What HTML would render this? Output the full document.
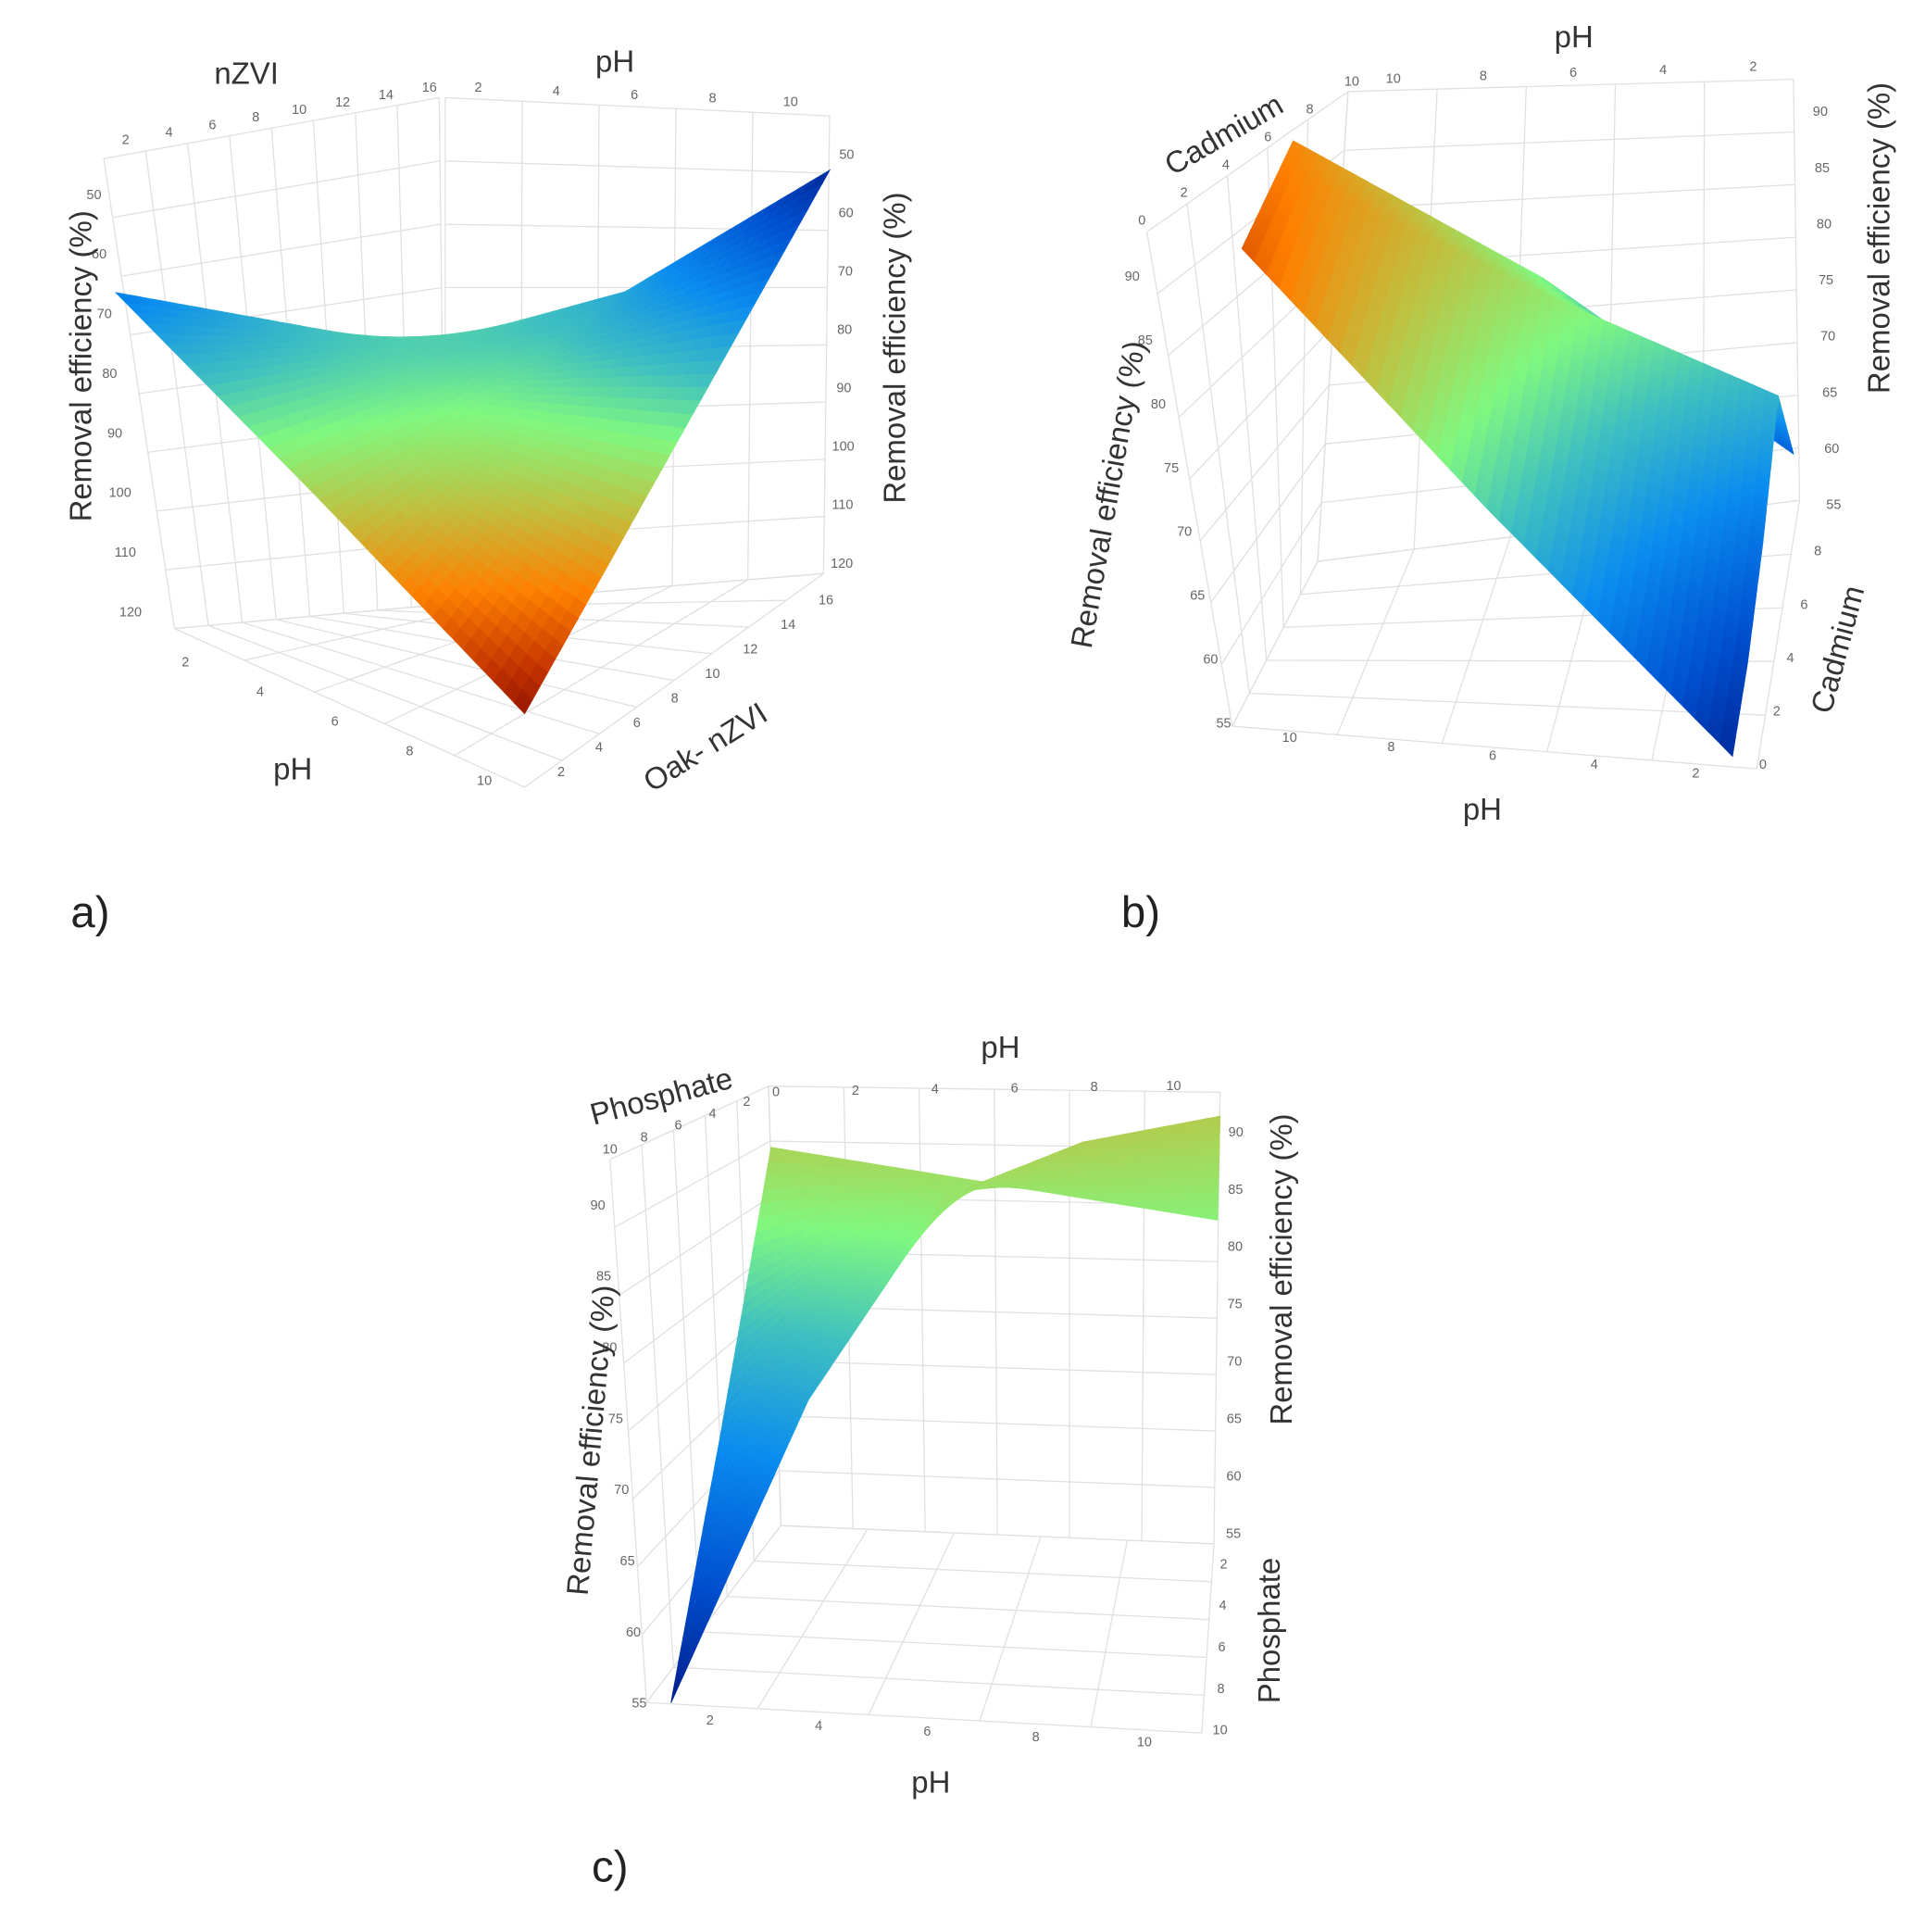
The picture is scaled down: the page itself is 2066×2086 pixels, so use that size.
<!DOCTYPE html>
<html><head><meta charset="utf-8">
<style>
html,body{margin:0;padding:0;background:#fff;}
svg{display:block;}
text{font-family:"Liberation Sans",sans-serif;}
.tick{font-size:11px;fill:#666;}
.title{font-size:25px;fill:#333;}
.panel{font-size:36px;fill:#222;}
</style></head>
<body>
<svg id="fig" width="2066" height="2086" viewBox="0 0 1568 1583" preserveAspectRatio="none" xmlns="http://www.w3.org/2000/svg">
<g id="grids"></g>
<g id="surfaces"></g>
<g id="labels"></g>
</svg>
<script>
// ---------- Chart a data ----------
const aPH = [2, 6, 10];
const aOak = [2, 9, 16];
const aValsPH2 = [67, 76, 85];
const aValsPH6 = [93, 86, 74];
const aValsPH10 = [120, 86, 52];
const aZTicks = [50, 60, 70, 80, 90, 100, 110, 120];
const aNzviTicks = [2, 4, 6, 8, 10, 12, 14, 16];
const aPHTicks = [2, 4, 6, 8, 10];
// ---------- Chart b data ----------
const bPH = [10, 6, 2];
const bCad = [0, 2, 4, 6, 8];
const bValsPH10 = [92, 91, 90, 89, 88];
const bValsPH6 = [73, 75, 77, 79, 76];
const bValsPH2 = [55, 58, 63, 70, 61];
const bZTicks = [55, 60, 65, 70, 75, 80, 85, 90];
const bPHTicks = [10, 8, 6, 4, 2];
const bCadTopTicks = [0, 2, 4, 6, 8, 10];
const bCadRightTicks = [0, 2, 4, 6, 8];
// ---------- Chart c data ----------
const cPH = [1.5, 3.75, 6, 8.25, 10.5];
const cPhos = [10, 5, 0];
const cValsPhos10 = [55, 75, 88, 90.5, 91];
const cValsPhos5 = [72, 82, 88, 88.5, 88.5];
const cValsPhos0 = [90, 89, 88, 87, 86];
const cZTicks = [55, 60, 65, 70, 75, 80, 85, 90];
const cPHTopTicks = [0, 2, 4, 6, 8, 10];
const cPHBottomTicks = [2, 4, 6, 8, 10];
const cPhosTopTicks = [10, 8, 6, 4, 2];
const cPhosRightTicks = [2, 4, 6, 8, 10];

const NS = "http://www.w3.org/2000/svg";
const gGrid = document.getElementById('grids');
const gSurf = document.getElementById('surfaces');
const gLab = document.getElementById('labels');

const cmapStops = [
  [0.00, [0, 16, 122]],
  [0.15, [0, 80, 208]],
  [0.28, [10, 140, 240]],
  [0.40, [64, 192, 192]],
  [0.50, [128, 248, 128]],
  [0.62, [192, 192, 64]],
  [0.75, [255, 128, 0]],
  [0.88, [192, 48, 0]],
  [1.00, [112, 0, 0]]
];
function cmap(t){
  t = Math.max(0, Math.min(1, t));
  for(let k=1;k<cmapStops.length;k++){
    if(t <= cmapStops[k][0]){
      const [t0,c0] = cmapStops[k-1], [t1,c1] = cmapStops[k];
      const f = (t-t0)/(t1-t0);
      return `rgb(${c0.map((c,i)=>Math.round(c+(c1[i]-c)*f)).join(',')})`;
    }
  }
  return 'rgb(112,0,0)';
}
function lerp(p, q, t){ return [p[0]+(q[0]-p[0])*t, p[1]+(q[1]-p[1])*t]; }
function bil(C, u, v){
  const a = lerp(C[0], C[1], u), b = lerp(C[3], C[2], u);
  return lerp(a, b, v);
}
function pane(C, nu, nv, name){
  const g = document.createElementNS(NS, 'g');
  
  
  let d = '';
  for(let i=0;i<=nu;i++){ const p=bil(C,i/nu,0), q=bil(C,i/nu,1); d+=`M${p[0]},${p[1]}L${q[0]},${q[1]}`; }
  for(let j=0;j<=nv;j++){ const p=bil(C,0,j/nv), q=bil(C,1,j/nv); d+=`M${p[0]},${p[1]}L${q[0]},${q[1]}`; }
  const path = document.createElementNS(NS, 'path');
  path.setAttribute('d', d);
  path.setAttribute('stroke', '#e0e0e0');
  path.setAttribute('stroke-width', '1');
  path.setAttribute('fill', 'none');
  
  
  g.appendChild(path);
  gGrid.appendChild(g);
}
function surface(cfg){
  const g = document.createElementNS(NS, 'g');
  
  
  const U = cfg.uVals, V = cfg.vVals, Z = cfg.z;
  const uMin = Math.min(...U), uMax = Math.max(...U), vMin = Math.min(...V), vMax = Math.max(...V);
  const un = x => cfg.uRev ? (U[0]-x)/(U[0]-U[U.length-1]) : (x-uMin)/(uMax-uMin);
  const vn = x => cfg.vRev ? (V[0]-x)/(V[0]-V[V.length-1]) : (x-vMin)/(vMax-vMin);
  const proj = (uu, vv, z) => { const gp = bil(cfg.ground, uu, vv); return [gp[0], gp[1] + (z - cfg.zBase)*cfg.kz]; };
  const S = 20;
  for(let j=V.length-2;j>=0;j--){
    for(let i=0;i<U.length-1;i++){
      const u0=un(U[i]), u1=un(U[i+1]), v0=vn(V[j]), v1=vn(V[j+1]);
      for(let b=S-1;b>=0;b--){
        for(let a=0;a<S;a++){
          const pts=[[a,b],[a+1,b],[a+1,b+1],[a,b+1]].map(([x,y])=>{
            const s=x/S, t=y/S;
            const z = Z[i][j]*(1-s)*(1-t)+Z[i+1][j]*s*(1-t)+Z[i+1][j+1]*s*t+Z[i][j+1]*(1-s)*t;
            return {p:proj(u0+(u1-u0)*s, v0+(v1-v0)*t, z), z};
          });
          const zm = pts.reduce((m,o)=>m+o.z,0)/4;
          const col = cmap((zm-cfg.cmin)/(cfg.cmax-cfg.cmin));
          const poly = document.createElementNS(NS,'polygon');
          poly.setAttribute('points', pts.map(o=>o.p[0].toFixed(1)+','+o.p[1].toFixed(1)).join(' '));
          poly.setAttribute('fill', col);
          poly.setAttribute('stroke', col);
          poly.setAttribute('stroke-width', '0.7');
          
          
          g.appendChild(poly);
        }
      }
    }
  }
  gSurf.appendChild(g);
}
function txt(s, x, y, cls, rot, name){
  const t = document.createElementNS(NS,'text');
  t.setAttribute('x', x); t.setAttribute('y', y);
  t.setAttribute('class', cls);
  t.setAttribute('text-anchor', 'middle');
  t.setAttribute('dominant-baseline', 'central');
  if(rot) t.setAttribute('transform', `rotate(${rot} ${x} ${y})`);
  t.textContent = s;
  
  
  gLab.appendChild(t);
}
function ticks(labels, v0, p0, v1, p1, name){
  labels.forEach(v=>{
    const p = lerp(p0, p1, (v - v0)/(v1 - v0));
    txt(String(v), p[0], p[1], 'tick', 0, name);
  });
}

// ---------- grids ----------
pane([[143,515],[365,495],[360,80],[85,130]], 8, 8, 'a-left-wall');
pane([[365,495],[675,470],[680,95],[365,80]], 5, 8, 'a-back-wall');
pane([[143,515],[430,645],[675,470],[365,495]], 5, 8, 'a-floor');
pane([[1010,595],[1080,460],[1105,75],[940,190]], 5, 8, 'b-left-wall');
pane([[1080,460],[1475,410],[1470,65],[1105,75]], 5, 8, 'b-back-wall');
pane([[1010,595],[1440,630],[1475,410],[1080,460]], 5, 5, 'b-floor');
pane([[530,1395],[640,1250],[630,890],[500,950]], 5, 8, 'c-left-wall');
pane([[640,1250],[995,1265],[1000,895],[630,890]], 6, 8, 'c-back-wall');
pane([[530,1395],[985,1420],[995,1265],[640,1250]], 5, 5, 'c-floor');

// ---------- surfaces ----------
surface({name:'a-surface', uVals:aPH, vVals:aOak, z:[aValsPH2,aValsPH6,aValsPH10],
  ground:[[95,530],[430,616],[680,503],[345,487]], zBase:126.4, kz:4.886, cmin:48, cmax:124});
surface({name:'b-surface', uVals:bPH, uRev:true, vVals:bCad, z:[bValsPH10,bValsPH6,bValsPH2],
  ground:[[1018,600],[1420,630],[1470,445],[1060,470]], zBase:54, kz:-10.43, cmin:52, cmax:101});
const cZ = cPH.map((_,i)=>[cValsPhos10[i], cValsPhos5[i], cValsPhos0[i]]);
surface({name:'c-surface', uVals:cPH, vVals:cPhos, vRev:true, z:cZ,
  ground:[[550,1401],[1000,1339],[998,1366],[632,1353]], zBase:54.5, kz:-11.63, cmin:53, cmax:117});

// ---------- chart a labels ----------
ticks(aNzviTicks, 2, [103,115], 16, [352,72], 'a-nzvi-tick');
ticks(aPHTicks, 2, [392,72], 10, [648,84], 'a-top-ph-tick');
ticks(aZTicks, 50, [77,160], 120, [107,502], 'a-left-z-tick');
ticks(aZTicks, 50, [694,127], 120, [690,462], 'a-right-z-tick');
ticks(aPHTicks, 2, [152,543], 10, [397,640], 'a-bottom-ph-tick');
ticks(aNzviTicks, 2, [460,633], 16, [677,492], 'a-oak-tick');
txt('nZVI', 202, 60, 'title', 0, 'a-nzvi-title');
txt('pH', 504, 50, 'title', 0, 'a-top-ph-title');
txt('Removal efficiency (%)', 66, 300, 'title', -90, 'a-left-z-title');
txt('Removal efficiency (%)', 733, 285, 'title', -90, 'a-right-z-title');
txt('pH', 240, 630, 'title', 0, 'a-bottom-ph-title');
txt('Oak- nZVI', 578, 612, 'title', -32, 'a-oak-title');
txt('a)', 74, 748, 'panel', 0, 'panel-label-a');

// ---------- chart b labels ----------
ticks(bPHTicks, 10, [1142,65], 2, [1437,55], 'b-top-ph-tick');
ticks(bCadTopTicks, 0, [936,181], 10, [1108,67], 'b-top-cadmium-tick');
ticks(bZTicks, 90, [928,227], 55, [1003,593], 'b-left-z-tick');
ticks(bPHTicks, 10, [1057,605], 2, [1390,634], 'b-bottom-ph-tick');
ticks(bCadRightTicks, 0, [1445,627], 8, [1490,452], 'b-right-cadmium-tick');
ticks(bZTicks, 90, [1492,92], 55, [1503,414], 'b-right-z-tick');
txt('pH', 1290, 30, 'title', 0, 'b-top-ph-title');
txt('Cadmium', 1003, 110, 'title', -30, 'b-top-cadmium-title');
txt('Removal efficiency (%)', 908, 405, 'title', -80, 'b-left-z-title');
txt('Removal efficiency (%)', 1540, 195, 'title', -90, 'b-right-z-title');
txt('pH', 1215, 663, 'title', 0, 'b-bottom-ph-title');
txt('Cadmium', 1506, 532, 'title', -75, 'b-right-cadmium-title');
txt('b)', 935, 748, 'panel', 0, 'panel-label-b');

// ---------- chart c labels ----------
ticks(cPHTopTicks, 0, [636,895], 10, [962,890], 'c-top-ph-tick');
ticks(cPhosTopTicks, 10, [500,942], 2, [612,903], 'c-top-phosphate-tick');
ticks(cZTicks, 90, [490,988], 55, [524,1396], 'c-left-z-tick');
ticks(cPHBottomTicks, 2, [582,1410], 10, [938,1428], 'c-bottom-ph-tick');
ticks(cZTicks, 90, [1013,928], 55, [1011,1257], 'c-right-z-tick');
ticks(cPhosRightTicks, 2, [1003,1282], 10, [1000,1418], 'c-right-phosphate-tick');
txt('pH', 820, 858, 'title', 0, 'c-top-ph-title');
txt('Phosphate', 542, 898, 'title', -15, 'c-top-phosphate-title');
txt('Removal efficiency (%)', 484, 1180, 'title', -85, 'c-left-z-title');
txt('Removal efficiency (%)', 1050, 1040, 'title', -90, 'c-right-z-title');
txt('Phosphate', 1040, 1336, 'title', -90, 'c-right-phosphate-title');
txt('pH', 763, 1460, 'title', 0, 'c-bottom-ph-title');
txt('c)', 500, 1530, 'panel', 0, 'panel-label-c');
</script>
</body></html>
